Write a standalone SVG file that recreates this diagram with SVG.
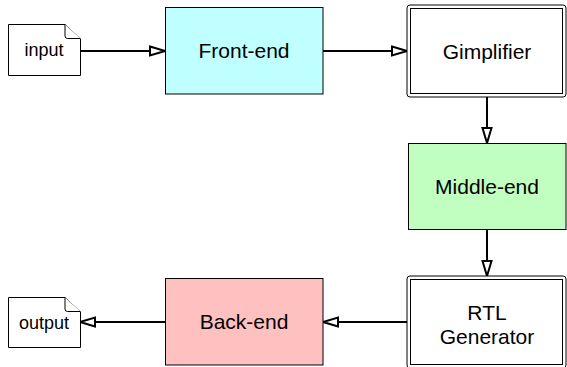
<svg xmlns="http://www.w3.org/2000/svg" width="567" height="367" viewBox="0 0 567 367">
<style>
.box{stroke:#000;stroke-width:1}
.lbl{font-family:"Liberation Sans",Arial,Helvetica,sans-serif;font-size:21px;fill:#000;text-anchor:middle}
.doclbl{font-family:"Liberation Sans",Arial,Helvetica,sans-serif;font-size:18px;fill:#000;text-anchor:middle}
.conn{stroke:#000;stroke-width:2;fill:none;marker-end:url(#arr)}
.doc{fill:#fff;stroke:#000;stroke-width:1}
</style>
<defs>
<marker id="arr" markerUnits="userSpaceOnUse" markerWidth="18" markerHeight="12" viewBox="-1.5 -1.5 18 12" refX="15" refY="4.5" orient="auto">
<path d="M0,0 L15,4.5 L0,9 Z" fill="#fff" stroke="#000" stroke-width="2" stroke-linejoin="miter"/>
</marker>
</defs>
<rect width="567" height="367" fill="#fff"/>
<g id="connectors">
<line class="conn" x1="80" y1="51" x2="165" y2="51"/>
<line class="conn" x1="323" y1="51" x2="407" y2="51"/>
<line class="conn" x1="487" y1="97" x2="487" y2="143"/>
<line class="conn" x1="487" y1="229" x2="487" y2="276"/>
<line class="conn" x1="407" y1="322" x2="323" y2="322"/>
<line class="conn" x1="165" y1="322" x2="80" y2="322"/>
</g>
<g id="input">
<path class="doc" d="M8.5,24.5 H65 L80.5,39 V75.5 H8.5 Z"/>
<path class="doc" d="M65,24.5 V36 Q65,38.5 67.5,38.5 H80.5"/>
<text class="doclbl" x="44" y="56">input</text>
</g>
<g id="front-end">
<rect class="box" x="165.5" y="7.5" width="157.5" height="86.5" fill="#c0ffff"/>
<text class="lbl" x="244" y="58">Front-end</text>
</g>
<g id="gimplifier">
<rect class="box" x="407" y="5" width="159" height="92" rx="3" fill="#fff"/>
<rect class="box" x="410.5" y="8.5" width="152" height="85" fill="#fff"/>
<text class="lbl" x="487" y="58.5">Gimplifier</text>
</g>
<g id="middle-end">
<rect class="box" x="408.5" y="143.5" width="157.5" height="86" fill="#c0ffc0"/>
<text class="lbl" x="487" y="193.5">Middle-end</text>
</g>
<g id="rtl-generator">
<rect class="box" x="407" y="276" width="159" height="92" rx="3" fill="#fff"/>
<rect class="box" x="410.5" y="279.5" width="152" height="85" fill="#fff"/>
<text class="lbl" x="487" y="320">RTL</text>
<text class="lbl" x="487" y="344">Generator</text>
</g>
<g id="back-end">
<rect class="box" x="165.5" y="278.5" width="157.5" height="86.5" fill="#ffc0c0"/>
<text class="lbl" x="244" y="329">Back-end</text>
</g>
<g id="output">
<path class="doc" d="M8.5,297.5 H65 L80.5,312 V347.5 H8.5 Z"/>
<path class="doc" d="M65,297.5 V309 Q65,311.5 67.5,311.5 H80.5"/>
<text class="doclbl" x="44" y="328.5">output</text>
</g>
</svg>
